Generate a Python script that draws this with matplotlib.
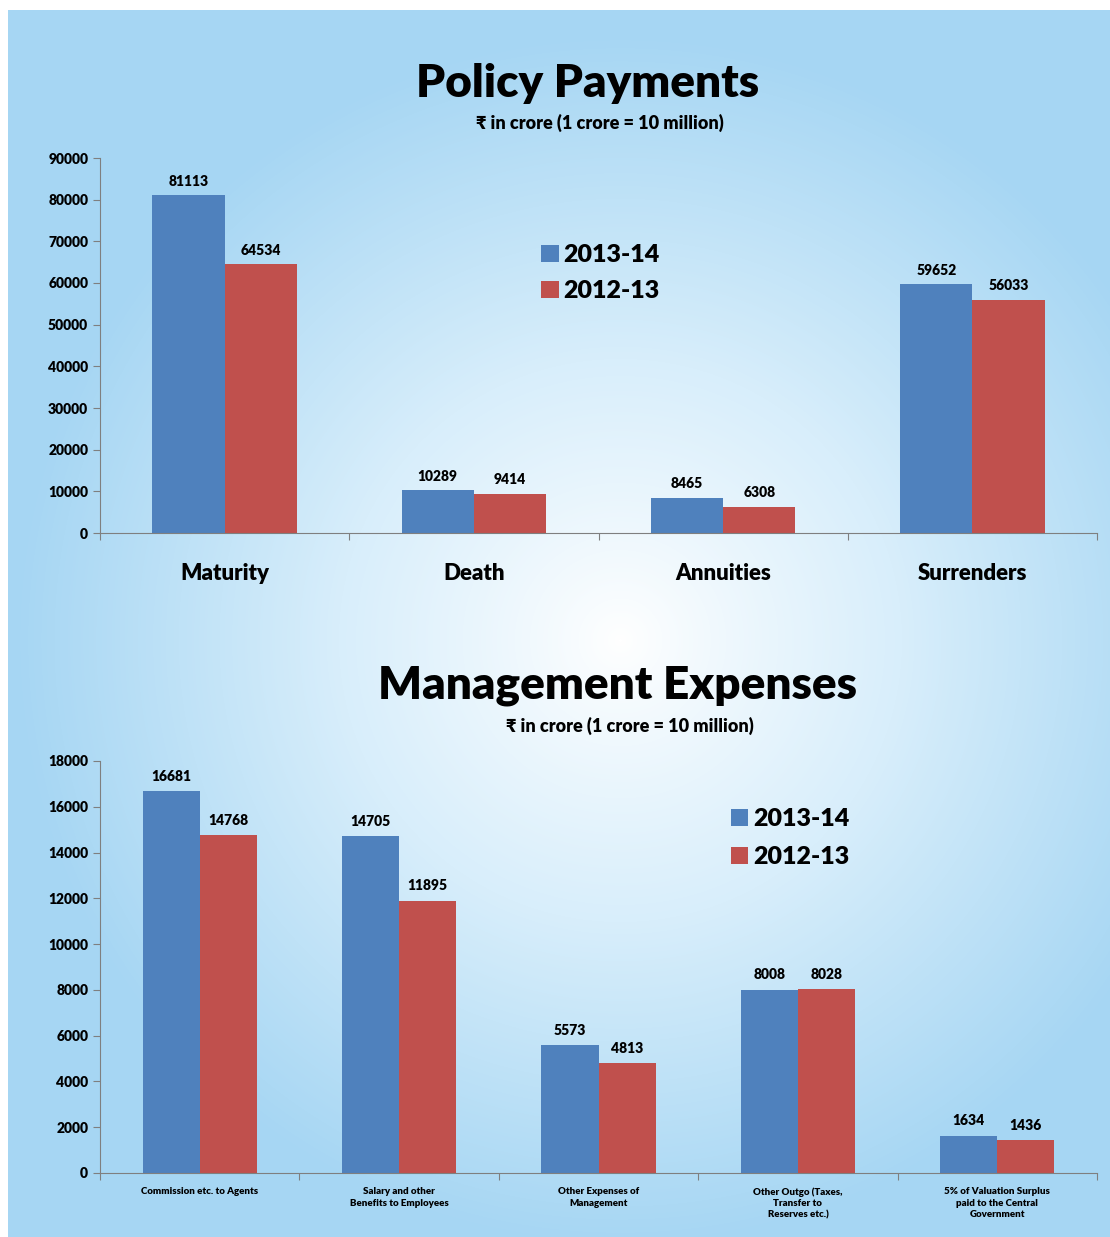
import numpy as np
import matplotlib.pyplot as plt
from matplotlib.colors import LinearSegmentedColormap

plt.rcParams['font.family'] = ['Lato', 'DejaVu Sans']

# Data
policy_cats = ["Maturity", "Death", "Annuities", "Surrenders"]
policy_1314 = [81113, 10289, 8465, 59652]
policy_1213 = [64534, 9414, 6308, 56033]

mgmt_cats = ["Commission etc. to Agents",
             "Salary and other\nBenefits to Employees",
             "Other Expenses of\nManagement",
             "Other Outgo (Taxes,\nTransfer to\nReserves etc.)",
             "5% of Valuation Surplus\npaid to the Central\nGovernment"]
mgmt_1314 = [16681, 14705, 5573, 8008, 1634]
mgmt_1213 = [14768, 11895, 4813, 8028, 1436]

years = ["2013-14", "2012-13"]
blue = "#4f81bd"
red = "#c0504d"

W, H = 1110, 1237
fig = plt.figure(figsize=(W/100, H/100), dpi=100)

# background radial gradient
bg = fig.add_axes([0, 0, 1, 1])
yy, xx = np.mgrid[0:H, 0:W]
r = np.sqrt(((xx - 620)/640.0)**2 + ((yy - 640)/640.0)**2)
r = np.clip(r/0.95, 0, 1)**0.9
cmap = LinearSegmentedColormap.from_list("bgc", ["#ffffff", "#d8eefb", "#a6d6f3"])
img = cmap(r)
img[:10, :, :3] = 1.0
img[:, :8, :3] = 1.0
bg.imshow(img, aspect="auto", extent=[0, W, H, 0])
bg.set_axis_off()


def px_axes(x0, y0, x1, y1):
    # pixel box (top-left origin) -> figure axes
    return fig.add_axes([x0/W, 1 - y1/H, (x1 - x0)/W, (y1 - y0)/H])


def bar_chart(ax, cats, v1, v2, ymax, step, width, lab_fs, cat_fs, cat_off):
    x = np.arange(len(cats))
    b1 = ax.bar(x - width/2, v1, width, color=blue, label=years[0])
    b2 = ax.bar(x + width/2, v2, width, color=red, label=years[1])
    for bars in (b1, b2):
        for b in bars:
            ax.text(b.get_x() + b.get_width()/2, b.get_height() + ymax*0.02,
                    str(int(b.get_height())), ha="center", va="bottom",
                    fontsize=lab_fs, fontweight="heavy")
    ax.set_xlim(-0.5, len(cats) - 0.5)
    ax.set_ylim(0, ymax)
    ax.set_yticks(np.arange(0, ymax + 1, step))
    ax.set_xticks(np.arange(-0.5, len(cats), 1.0))
    ax.set_xticklabels([""] * (len(cats) + 1))
    for i, c in enumerate(cats):
        ax.text(i, -ymax*cat_off, c, ha="center", va="top",
                fontsize=cat_fs, fontweight="heavy", linespacing=1.3)
    ax.patch.set_alpha(0)
    for s in ["top", "right"]:
        ax.spines[s].set_visible(False)
    for s in ["left", "bottom"]:
        ax.spines[s].set_color("#7f7f7f")
    ax.tick_params(axis="both", color="#7f7f7f", length=5)
    for t in ax.get_yticklabels():
        t.set_fontweight("heavy")
        t.set_fontsize(10)


# Policy Payments
ax1 = px_axes(100, 158, 1097, 533)
bar_chart(ax1, policy_cats, policy_1314, policy_1213, 90000, 10000, 0.29, 10, 16, 0.08)
ax1.legend(loc="upper left", bbox_to_anchor=(0.42, 0.83), frameon=False,
           prop={"weight": "heavy", "size": 18}, handlelength=0.7, handleheight=0.7,
           handletextpad=0.2, labelspacing=0.55)
fig.text(588/W, 1 - 83/H, "Policy Payments", ha="center", va="center",
         fontsize=33, fontweight="heavy")
fig.text(600/W, 1 - 123/H, "\u20b9 in crore (1 crore = 10 million)", ha="center",
         va="center", fontsize=13, fontweight="heavy")

# Management Expenses
ax2 = px_axes(100, 761, 1097, 1173)
bar_chart(ax2, mgmt_cats, mgmt_1314, mgmt_1213, 18000, 2000, 0.286, 10, 7, 0.035)
ax2.legend(loc="upper left", bbox_to_anchor=(0.61, 0.94), frameon=False,
           prop={"weight": "heavy", "size": 18}, handlelength=0.7, handleheight=0.7,
           handletextpad=0.2, labelspacing=0.65)
fig.text(618/W, 1 - 686/H, "Management Expenses", ha="center", va="center",
         fontsize=33, fontweight="heavy")
fig.text(630/W, 1 - 726/H, "\u20b9 in crore (1 crore = 10 million)", ha="center",
         va="center", fontsize=13, fontweight="heavy")

fig.savefig("out.png", dpi=100)
